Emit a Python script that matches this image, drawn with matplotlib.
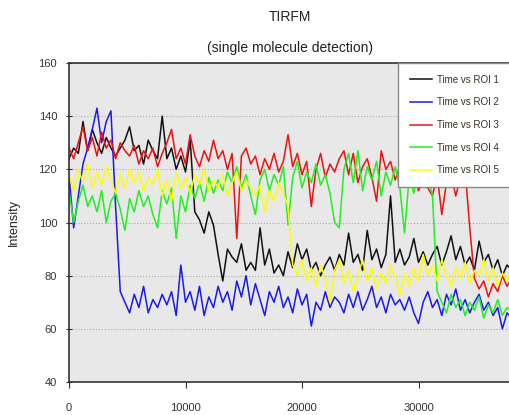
import matplotlib
matplotlib.use("Agg")
import matplotlib.pyplot as plt

plt.rcParams['font.family'] = ['Liberation Sans', 'DejaVu Sans']

# time axis (sampled every 400 units)
time = list(range(0, 38001, 400))

roi1 = [124, 128, 126, 138, 127, 135, 130, 126, 132, 128,
        125, 128, 131, 136, 127, 129, 122, 131, 127, 124,
        140, 124, 128, 120, 125, 119, 131, 104, 101, 96,
        104, 99, 88, 78, 90, 87, 85, 92, 82, 85,
        82, 98, 84, 90, 81, 84, 80, 89, 83, 92,
        86, 90, 82, 85, 80, 84, 87, 82, 88, 84,
        96, 85, 88, 82, 97, 86, 90, 83, 88, 110,
        85, 90, 84, 87, 94, 85, 89, 84, 88, 91,
        84, 89, 95, 86, 91, 84, 87, 82, 93, 85,
        88, 82, 86, 80, 84, 82]

roi2 = [118, 98, 110, 122, 128, 135, 143, 130, 138, 142,
        106, 74, 70, 66, 73, 68, 76, 66, 71, 68,
        73, 69, 74, 65, 84, 70, 74, 67, 76, 65,
        72, 68, 76, 70, 74, 67, 78, 72, 80, 69,
        77, 71, 65, 74, 70, 76, 68, 72, 66, 75,
        69, 73, 61, 70, 67, 74, 68, 72, 70, 66,
        73, 68, 74, 67, 71, 76, 68, 72, 66, 73,
        69, 71, 67, 72, 66, 62, 70, 74, 68, 71,
        65, 73, 69, 75, 67, 71, 66, 70, 73, 67,
        70, 65, 68, 60, 66, 64]

roi3 = [128, 124, 130, 136, 127, 132, 125, 134, 128, 131,
        124, 130, 127, 125, 129, 122, 127, 124, 128, 121,
        126, 130, 135, 124, 128, 122, 133, 125, 121, 127,
        123, 131, 124, 127, 120, 126, 94, 125, 128, 122,
        125, 118, 124, 120, 126, 119, 123, 133, 121, 126,
        118, 123, 106, 120, 126, 117, 122, 119, 124, 127,
        118, 126, 115, 121, 124, 117, 108, 127, 120, 123,
        116, 121, 118, 114, 119, 112, 116, 113, 110, 118,
        103, 115, 118, 110, 117, 120, 98, 79, 75, 78,
        72, 77, 74, 80, 76, 79]

roi4 = [112, 100, 108, 114, 106, 110, 104, 112, 100, 108,
        111, 105, 97, 109, 104, 112, 106, 110, 103, 98,
        112, 107, 113, 94, 110, 104, 114, 109, 115, 108,
        117, 111, 116, 112, 119, 115, 121, 113, 118, 110,
        103, 116, 120, 112, 118, 114, 121, 99, 117, 123,
        113, 119, 115, 122, 114, 118, 111, 100, 98, 120,
        126, 115, 127, 112, 121, 116, 123, 110, 119, 114,
        121, 113, 96, 117, 111, 120, 114, 118, 110, 74,
        70, 66, 73, 68, 71, 65, 70, 67, 72, 64,
        69, 66, 71, 65, 68, 66]

roi5 = [118, 112, 120, 115, 122, 113, 119, 114, 121, 116,
        111, 118, 113, 120, 115, 119, 112, 117, 114, 120,
        110, 116, 108, 119, 113, 117, 111, 118, 114, 120,
        112, 116, 113, 118, 110, 115, 119, 112, 116, 113,
        110, 114, 104, 112, 108, 115, 111, 106, 84, 80,
        86, 78, 83, 76, 84, 79, 70, 82, 86, 77,
        82, 74, 80, 86, 78, 83, 75, 81, 77, 84,
        79, 73, 81, 76, 83, 78, 88, 80, 84, 78,
        86, 80, 76, 83, 79, 85, 77, 82, 80, 86,
        78, 83, 76, 81, 78, 84]

series = [roi1, roi2, roi3, roi4, roi5]
labels = ['Time vs ROI 1', 'Time vs ROI 2', 'Time vs ROI 3', 'Time vs ROI 4', 'Time vs ROI 5']
colors = ['#111111', '#1a1aee', '#ee1111', '#22ee22', '#ffff00']

fig = plt.figure(figsize=(5.1, 4.15), dpi=100)
# axes run past the right edge of the figure, like the cropped original
ax = fig.add_axes([69 / 510, 33 / 415, 466 / 510, 319 / 415])
ax.set_facecolor('#e8e8e8')

for vals, lab, col in zip(series, labels, colors):
    ax.plot(time, vals, color=col, lw=1.1, label=lab)

ax.set_xlim(0, 40000)
ax.set_ylim(40, 160)
ax.set_xticks([0, 10000, 20000, 30000])
ax.set_yticks([40, 60, 80, 100, 120, 140, 160])
ax.grid(axis='y', linestyle=':', color='#aaaaaa', lw=0.8)
ax.set_axisbelow(True)

for s in ['left', 'bottom', 'top', 'right']:
    ax.spines[s].set_color('#333333')
    ax.spines[s].set_linewidth(1.2)

ax.tick_params(axis='x', direction='out', length=4, pad=11, labelsize=8, colors='#333333')
ax.tick_params(axis='y', direction='inout', length=5, pad=6, labelsize=8, colors='#333333')

fig.text(14 / 510, 1 - 222 / 415, 'Intensity', rotation=90, ha='center', va='center',
         fontsize=9, color='#222222')
fig.text(290 / 510, 1 - 17 / 415, 'TIRFM', ha='center', va='center', fontsize=10, color='#222222')
fig.text(290 / 510, 1 - 48 / 415, '(single molecule detection)', ha='center', va='center',
         fontsize=10, color='#222222')

# legend box is wider than the visible part of the figure
leg = ax.legend(loc='upper left', bbox_to_anchor=(0.706, 0.0, 0.35, 1.0), mode='expand',
                fancybox=False, edgecolor='#888888', facecolor='white', framealpha=1,
                fontsize=7, handlelength=2.3, handletextpad=0.55, labelspacing=1.3,
                borderpad=1.2, borderaxespad=0)
for t in leg.get_texts():
    t.set_color('#3a3020')

fig.savefig('out.png', dpi=100)
